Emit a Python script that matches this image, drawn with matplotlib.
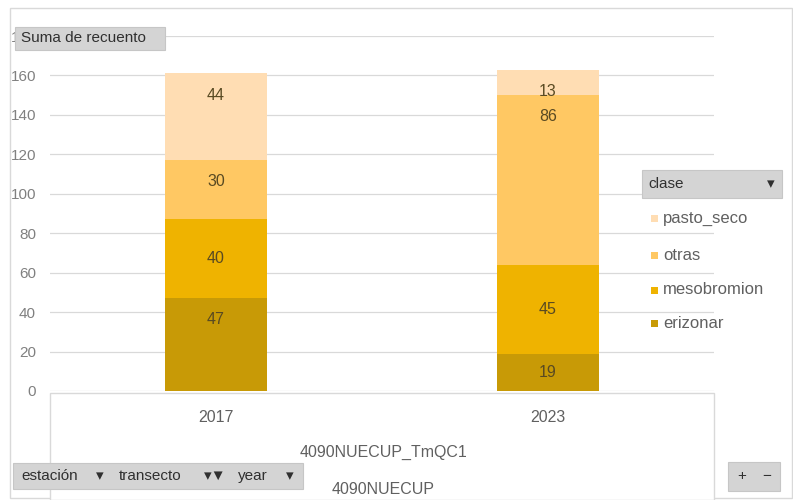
import matplotlib
matplotlib.use("Agg")
import matplotlib.pyplot as plt
from matplotlib.patches import Rectangle
import numpy as np

plt.rcParams['font.family'] = ['Liberation Sans', 'DejaVu Sans']

# data
years = ['2017', '2023']
clases = ['erizonar', 'mesobromion', 'otras', 'pasto_seco']
erizonar = [47, 19]
mesobromion = [40, 45]
otras = [30, 86]
pasto_seco = [44, 13]
colors = ['#C89A06', '#EFB300', '#FFC863', '#FFDDB3']
# label placement as Excel drew it: True = centred in segment, False = near top
centred = [[False, True], [True, True], [False, False], [False, False]]

W, H = 793, 500
fig = plt.figure(figsize=(W / 100, H / 100), dpi=100)
fig.patch.set_facecolor('white')


def fx(px):
    return px / W


def fy(py):
    return 1 - py / H


def box(x0, y0, x1, y1, **kw):
    fig.add_artist(Rectangle((fx(x0), fy(y1)), fx(x1 - x0), fy(y0) - fy(y1),
                             transform=fig.transFigure, **kw))


# outer frame
box(10, 8, 792, 498, fill=False, edgecolor='#d9d9d9', lw=1)

ax = fig.add_axes([fx(50), fy(391), fx(664), fy(36) - fy(391)])
x = np.arange(len(years))
series = [erizonar, mesobromion, otras, pasto_seco]
bottom = np.zeros(len(years))
for vals, c, name, cen in zip(series, colors, clases, centred):
    ax.bar(x, vals, width=0.31, bottom=bottom, color=c, label=name, zorder=3)
    for xi, v, b, cc in zip(x, vals, bottom, cen):
        ly = b + v / 2 if cc else b + v - 11
        ax.text(xi, ly, str(v), ha='center', va='center', fontsize=11.5,
                color='#594a22', zorder=4)
    bottom += np.array(vals)

ax.set_xlim(-0.5, 1.5)
ax.set_ylim(0, 180)
ax.set_yticks(range(0, 181, 20))
ax.set_yticklabels([str(v) for v in range(0, 181, 20)], color='#808080', fontsize=11)
ax.tick_params(axis='y', length=0, pad=10)
ax.set_xticks([])
ax.grid(axis='y', color='#d9d9d9', lw=0.9, zorder=0)
for s in ax.spines.values():
    s.set_visible(False)

# category axis box
box(50, 393, 714, 500, facecolor='white', edgecolor='#d9d9d9', lw=1)
for xi, yr in zip(x, years):
    xpix = 50 + (xi + 0.5) * 332
    fig.text(fx(xpix), fy(418), yr, ha='center', va='center', fontsize=11.5, color='#606060')
fig.text(fx(383), fy(452), '4090NUECUP_TmQC1', ha='center', va='center', fontsize=11.5, color='#606060')
fig.text(fx(383), fy(490), '4090NUECUP', ha='center', va='center', fontsize=11.5, color='#606060')

# field buttons
btn = dict(facecolor='#d4d4d4', edgecolor='#c6c6c6', lw=0.8)
txt = dict(va='center', fontsize=11, color='#303030')

box(15, 27, 165, 50, **btn)
fig.text(fx(21), fy(38.5), 'Suma de recuento', ha='left', **txt)

box(13, 463, 303, 489, **btn)
fig.text(fx(21), fy(476), 'estación', ha='left', **txt)
fig.text(fx(100), fy(476), '▾', ha='center', **txt)
fig.text(fx(119), fy(476), 'transecto', ha='left', **txt)
fig.text(fx(215), fy(476), '▾▼', ha='center', **txt)
fig.text(fx(238), fy(476), 'year', ha='left', **txt)
fig.text(fx(290), fy(476), '▾', ha='center', **txt)

box(728, 462, 780, 491, **btn)
fig.text(fx(742), fy(476), '+', ha='center', **txt)
fig.text(fx(767), fy(476), '−', ha='center', **txt)

box(642, 170, 782, 198, **btn)
fig.text(fx(648), fy(184), 'clase', ha='left', **txt)
fig.text(fx(771), fy(184), '▾', ha='center', **txt)

# legend
ys = [323, 290, 255, 218]
for name, c, yy in zip(clases, colors, ys):
    box(651, yy - 3, 658, yy + 4, facecolor=c, edgecolor='none')
    fig.text(fx(663), fy(yy), name, ha='left', va='center', fontsize=12, color='#606060')

fig.savefig('out.png', dpi=100)
